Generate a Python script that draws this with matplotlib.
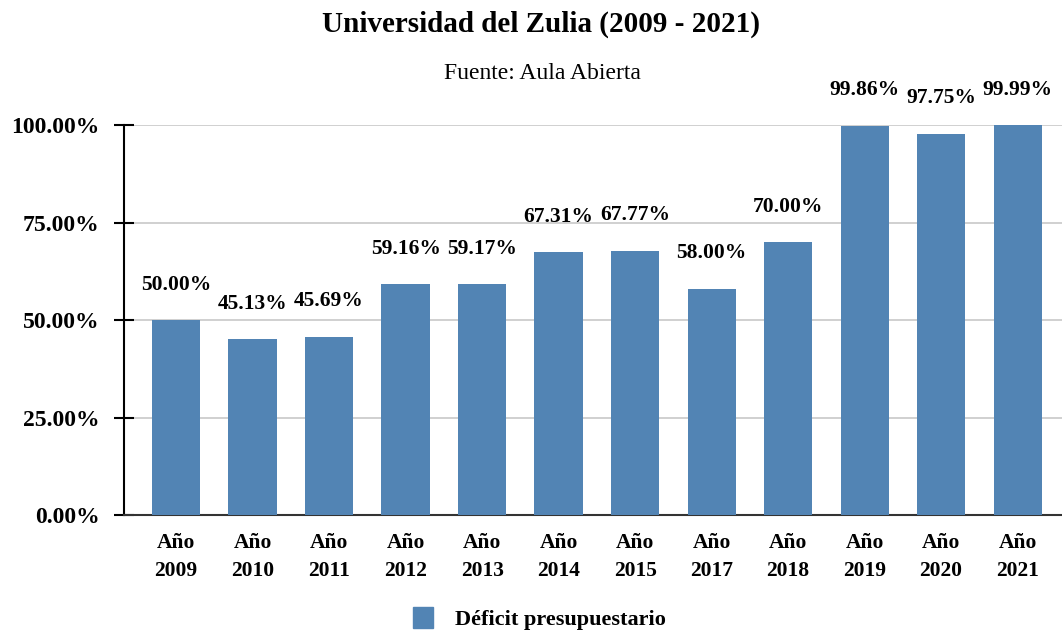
import matplotlib.pyplot as plt
from matplotlib.ticker import FuncFormatter
from matplotlib.patches import Patch

anios = ["2009", "2010", "2011", "2012", "2013", "2014", "2015", "2017", "2018", "2019", "2020", "2021"]
deficit = [50.00, 45.13, 45.69, 59.16, 59.17, 67.31, 67.77, 58.00, 70.00, 99.86, 97.75, 99.99]
etiquetas = [f"Año\n{a}" for a in anios]

color_barra = "#5284B4"
plt.rcParams["font.family"] = ["Liberation Serif", "DejaVu Serif"]

fig = plt.figure(figsize=(10.62, 6.3), dpi=100)
ax = fig.add_axes([0.1168, 0.1825, 0.8832, 0.6191])

x = range(len(anios))
barras = ax.bar(x, deficit, width=0.63, color=color_barra, zorder=3)

for xi, v in zip(x, deficit):
    ax.text(xi, v + 6.5, f"{v:.2f}%", ha="center", va="bottom", fontsize=15.5,
            fontweight="bold", clip_on=False)

ax.set_ylim(0, 100)
ax.set_xlim(-0.68, 11.58)
ax.set_yticks([0, 25, 50, 75, 100])
ax.yaxis.set_major_formatter(FuncFormatter(lambda v, p: f"{v:.2f}%"))
ax.set_xticks(list(x))
ax.set_xticklabels(etiquetas, fontsize=15.5, fontweight="bold", linespacing=1.55)
for lbl in ax.get_yticklabels():
    lbl.set_fontsize(17)
    lbl.set_fontweight("bold")

ax.grid(axis="y", color="#c8c8c8", linewidth=1.2, zorder=0)
ax.tick_params(axis="y", direction="inout", length=15, width=1.5, pad=10)
ax.tick_params(axis="x", length=0, pad=13)
for s in ["top", "right"]:
    ax.spines[s].set_visible(False)
ax.spines["left"].set_linewidth(1.5)
ax.spines["bottom"].set_linewidth(1.5)
ax.spines["bottom"].set_color("#333333")

fig.text(0.509, 0.962, "Universidad del Zulia (2009 - 2021)", ha="center", va="center",
         fontsize=21, fontweight="bold")
fig.text(0.511, 0.884, "Fuente: Aula Abierta", ha="center", va="center", fontsize=17)

fig.legend(handles=[Patch(color=color_barra, label="Déficit presupuestario")],
           loc="center", bbox_to_anchor=(0.508, 0.018), frameon=False,
           prop={"size": 16, "weight": "bold"}, handlelength=0.9, handleheight=1.1,
           handletextpad=1.0)

fig.savefig("out.png", dpi=100)
